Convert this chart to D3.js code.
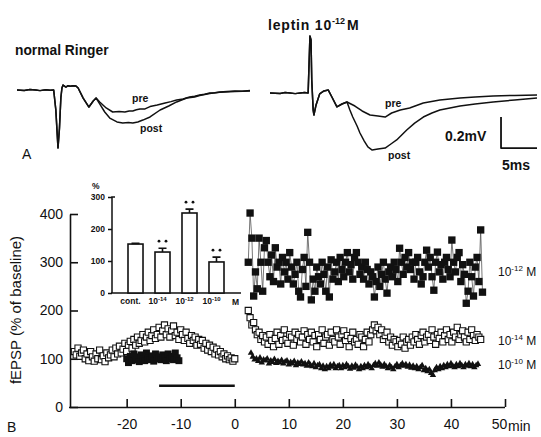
<!DOCTYPE html>
<html><head><meta charset="utf-8">
<script src="https://cdn.jsdelivr.net/npm/d3@7"></script>
<style>body{margin:0;background:#fff}svg{display:block;font-family:"Liberation Sans",Arial,Helvetica,sans-serif}</style>
</head><body><svg id="c" width="541" height="437"></svg>
<script>
// ---------- Panel A traces: [ms, mV] ----------
const ringerCommon = [[0,0],[1,-0.003],[1.8,0.003],[2.6,0],[3.2,-0.004],[4,0.002],[4.6,-0.002],[5.1,0],[5.4,-0.129],[5.7,-0.374],[5.9,-0.25],[6.1,-0.05],[6.25,0.013],[6.4,0.032],[6.8,0.019],[7.1,0.028],[7.4,0.024],[7.8,0.028],[8.2,0.026],[8.5,0.013],[9.2,-0.052],[10.0,-0.110],[10.6,-0.071],[11.0,-0.052]];
const ringerPre = [[11.5,-0.077],[12.4,-0.116],[13.3,-0.142],[14.2,-0.139],[15.0,-0.142],[15.6,-0.136],[16.1,-0.135],[16.6,-0.128],[17.1,-0.123],[17.8,-0.122],[18.5,-0.107],[19.5,-0.097],[20.6,-0.084],[21.4,-0.075],[22.2,-0.065],[23.1,-0.058],[24.0,-0.045],[24.7,-0.040],[25.4,-0.032],[26.1,-0.028],[26.8,-0.019],[27.5,-0.017],[28.2,-0.013],[29.2,-0.010],[30.3,-0.006],[31.3,-0.008],[32.4,-0.004]];
const ringerPost = [[11.5,-0.090],[12.2,-0.142],[12.9,-0.181],[13.9,-0.206],[14.7,-0.213],[15.5,-0.210],[16.1,-0.213],[16.8,-0.206],[17.5,-0.194],[18.5,-0.174],[19.9,-0.129],[21.1,-0.103],[22.2,-0.077],[23.6,-0.052],[24.7,-0.045],[25.4,-0.036],[26.8,-0.022],[28.2,-0.015],[30.3,-0.010],[32.4,-0.007]];
const leptinCommon = [[0,0],[1.4,-0.003],[2.1,0.003],[2.8,0],[3.5,-0.004],[4.2,0],[4.8,0.003],[5.3,0],[5.4,0.148],[5.55,0.368],[5.7,0.342],[5.8,0.084],[6.0,-0.110],[6.1,-0.142],[6.4,-0.077],[6.9,-0.006],[7.5,0.013],[8.1,0.019],[8.6,-0.026],[9.3,-0.090],[10.0,-0.071],[10.7,-0.058]];
const leptinPre = [[11.8,-0.084],[12.8,-0.116],[13.9,-0.142],[15.0,-0.148],[16.0,-0.155],[16.9,-0.129],[18.1,-0.110],[19.4,-0.097],[21.3,-0.065],[23.6,-0.045],[26.4,-0.032],[28.5,-0.026],[31.0,-0.019],[34.0,-0.016],[37.1,-0.013]];
const leptinPost = [[11.1,-0.110],[11.5,-0.155],[12.1,-0.213],[12.5,-0.258],[13.1,-0.310],[13.6,-0.348],[14.2,-0.368],[15.0,-0.362],[16.0,-0.355],[16.8,-0.329],[17.6,-0.303],[18.3,-0.271],[19.0,-0.239],[20.1,-0.194],[21.3,-0.155],[22.5,-0.129],[23.6,-0.110],[25.0,-0.097],[26.4,-0.084],[28.5,-0.071],[31.0,-0.058],[34.0,-0.045],[37.1,-0.032]];
const scaleBarMs = 5, scaleBarMv = 0.2;

// ---------- Panel B: fEPSP (% of baseline), sampled every 20 s ----------
const sampleStep = 1/3;
const pre14Start = -29.67;
const pre14 = [115,108,122,105,112,118,100,110,96,115, 104,95,110,100,118,98,106,94,112,102, 108,118,104,122,110,126,112,120,132,115, 128,136,122,140,128,145,132,138,150,135, 145,155,138,148,160,142,150,165,145,158, 170,150,162,145,158,168,148,155,140,160, 150,138,155,142,132,148,138,145,128,140, 130,138,122,132,118,128,115,124,110,120, 108,115,104,110,100,106,98,102,95,100];
const pre12Start = -20;
const pre12 = [100,92,105,96,110,98,104,94,108,100,96,112,102,98,106,95,110,100,104,98,108,102,96,110,100,105,98,112,102,96];
const post12Start = 2.5;
const post12 = [300,402,350,230,280,245,350,300,240,330, 345,300,270,315,260,330,290,300,255,310, 280,300,265,320,290,255,275,300,240,228, 285,310,250,362,300,222,265,240,290,270, 255,300,275,240,290,228,305,265,280,300, 260,310,285,270,300,320,280,295,265,310, 320,300,275,290,265,300,285,255,280,270, 228,260,290,250,275,300,265,236,280,290, 270,300,285,260,329,300,275,310,290,320, 285,300,265,300,310,280,255,270,300,325, 290,310,270,242,300,321,280,295,265,300, 310,285,270,346,300,280,310,320,260,295, 275,215,240,300,270,230,290,310,260,367, 238];
const post14Start = 2.5;
const post14 = [200,185,170,175,160,150,155,140,148,135, 145,130,150,138,125,142,155,130,148,138, 160,140,132,150,145,128,155,140,150,135, 145,158,130,150,140,155,135,148,125,150, 140,160,132,145,150,128,155,140,135,160, 145,130,150,158,138,148,125,142,155,135, 140,130,150,145,125,140,155,135,150,160, 170,158,165,150,160,140,148,155,135,145, 128,140,135,125,138,130,145,122,135,140, 128,145,135,150,140,130,148,155,135,145, 150,138,160,145,130,150,142,155,135,148, 160,140,150,135,155,145,165,140,150,158, 145,135,155,140,160,148,138,150,145,140];
const post10Start = 3;
const post10 = [112,104,98,100,95,102,92,98,96,100, 90,96,93,99,91,95,92,97,90,94, 96,88,93,90,95,86,92,89,94,88, 90,85,92,87,84,90,82,86,88,80, 85,78,84,80,87,83,88,80,84,86, 80,86,82,88,84,79,85,81,87,83, 78,84,80,86,82,88,84,80,86,90, 85,92,87,83,88,84,80,86,82,78, 84,88,82,86,90,85,88,83,87,81, 85,80,84,78,82,86,76,80,74,78, 70,66,76,82,78,84,80,86,82,88, 84,90,85,82,88,84,90,86,82,88, 85,90,84,88,82,86,89];
const applicationPeriod = [-14, 0];
const applicationLevel = 44;
const xTicks = [-20,-10,0,10,20,30,40,50];
const yTicks = [0,100,200,300,400];

// ---------- Inset bar chart ----------
const insetCats = ["cont.","10-14","10-12","10-10"];
const insetBase = ["cont.","10","10","10"];
const insetExp = ["","-14","-12","-10"];
const insetMean = [153,128,250,97];
const insetErr = [2,12,12,15];
const insetSig = [false,true,true,true];
const insetTicks = [0,100,200,300];

const svg = d3.select("#c");
const series = (start, vals) => vals.map((v,i)=>({t:start+i*sampleStep, v}));

// ----- Panel A -----
const xL = d3.scaleLinear().domain([0,32.4]).range([17,250]);
const yL = d3.scaleLinear().domain([-0.4,0.4]).range([152,28]);
const xR = d3.scaleLinear().domain([0,37.1]).range([270,537]);
const yR = d3.scaleLinear().domain([-0.4,0.4]).range([155,31]);
const lineL = d3.line().x(d=>xL(d[0])).y(d=>yL(d[1]));
const lineR = d3.line().x(d=>xR(d[0])).y(d=>yR(d[1]));
const gA = svg.append("g").attr("fill","none").attr("stroke","#111").attr("stroke-width",1.5).attr("stroke-linejoin","round");
gA.append("path").attr("d", lineL(ringerCommon.concat(ringerPre)));
gA.append("path").attr("d", lineL(ringerCommon.concat(ringerPost)));
gA.append("path").attr("d", lineR(leptinCommon.concat(leptinPre)));
gA.append("path").attr("d", lineR(leptinCommon.concat(leptinPost)));
const sbX = xR(32.1), sbY = yR(-0.355);
gA.append("path").attr("stroke-width",1.8)
  .attr("d", `M${sbX},${yR(-0.355+scaleBarMv)}V${sbY}H${xR(32.1+scaleBarMs)}`);

const txt = (x,y,s,size,weight,anchor) => svg.append("text").attr("x",x).attr("y",y).attr("font-size",size)
  .attr("font-weight",weight||"normal").attr("text-anchor",anchor||"start").attr("fill","#111").text(s);
txt(15,55,"normal Ringer",13.8,"bold");
const lt = txt(268,30,"leptin 10",14,"bold").attr("letter-spacing",0.8);
lt.append("tspan").attr("dy",-6).attr("font-size",9).attr("letter-spacing",0).text("-12");
lt.append("tspan").attr("dy",6).attr("dx",2).text("M");
txt(132,102,"pre",10.5,"bold");
txt(140,132,"post",10.5,"bold");
txt(385,107,"pre",10.5,"bold");
txt(388,159,"post",10.5,"bold");
txt(22,159,"A",14,"normal");
txt(445,141,"0.2mV",14,"bold");
txt(502,170,"5ms",14,"bold");

// ----- Panel B -----
const xB = d3.scaleLinear().domain([-30.3,50]).range([71,505]);
const yB = d3.scaleLinear().domain([0,400]).range([407,214]);

const gAx = svg.append("g").attr("transform","translate(0,407)")
  .call(d3.axisBottom(xB).tickValues(xTicks).tickSizeInner(-8).tickSizeOuter(0).tickPadding(12).tickFormat(d=>String(d)));
const gAy = svg.append("g").attr("transform","translate(70,0)")
  .call(d3.axisLeft(yB).tickValues(yTicks).tickSizeInner(-8).tickSizeOuter(0).tickPadding(7).tickFormat(d=>String(d)));
[gAx,gAy].forEach(g=>{
  g.selectAll("path,line").attr("stroke","#111").attr("stroke-width",1.6);
  g.selectAll("text").attr("font-size",14).attr("fill","#111").attr("font-family","Liberation Sans, Arial, sans-serif");
});
gAx.select(".domain").attr("d",`M69,0.5H${xB(50)}`);
gAx.selectAll(".tick text").filter(d=>d===50).attr("dx",-6);
txt(508,431,"min",14,"normal");
txt(7,432,"B",14,"normal");
svg.append("text").attr("transform","translate(21,310) rotate(-90)").attr("text-anchor","middle")
  .attr("font-size",15).attr("fill","#111").text("fEPSP (% of baseline)");

svg.append("line").attr("x1",xB(applicationPeriod[0])).attr("x2",xB(applicationPeriod[1]))
  .attr("y1",yB(applicationLevel)).attr("y2",yB(applicationLevel)).attr("stroke","#111").attr("stroke-width",2.5);

const sq = (size)=>d3.symbol(d3.symbolSquare,size)();
const tri = d3.symbol(d3.symbolTriangle,18)();
const ln = d3.line().x(d=>xB(d.t)).y(d=>yB(d.v));

// pre period
const gPre = svg.append("g");
gPre.selectAll("path.o").data(series(pre14Start,pre14)).join("path")
  .attr("transform",d=>`translate(${xB(d.t)},${yB(d.v)})`).attr("d",sq(38))
  .attr("fill","#fff").attr("stroke","#111").attr("stroke-width",1.1);
gPre.selectAll("path.f").data(series(pre12Start,pre12)).join("path")
  .attr("transform",d=>`translate(${xB(d.t)},${yB(d.v)})`).attr("d",sq(48)).attr("fill","#111");

// post 10^-14 open squares
svg.append("g").selectAll("path").data(series(post14Start,post14)).join("path")
  .attr("transform",d=>`translate(${xB(d.t)},${yB(d.v)})`).attr("d",sq(38))
  .attr("fill","#fff").attr("stroke","#111").attr("stroke-width",1.1);
// post 10^-10 triangles
const p10 = series(post10Start,post10);
svg.append("path").attr("d",ln(p10)).attr("fill","none").attr("stroke","#222").attr("stroke-width",0.9);
svg.append("g").selectAll("path").data(p10).join("path")
  .attr("transform",d=>`translate(${xB(d.t)},${yB(d.v)})`).attr("d",tri).attr("fill","#111");
// post 10^-12 filled squares
const p12 = series(post12Start,post12);
svg.append("path").attr("d",ln(p12)).attr("fill","none").attr("stroke","#555").attr("stroke-width",0.8);
svg.append("g").selectAll("path").data(p12).join("path")
  .attr("transform",d=>`translate(${xB(d.t)},${yB(d.v)})`).attr("d",sq(54)).attr("fill","#111");

const lab = (y, exp) => { const t = txt(498,y,"10",12,"normal"); t.append("tspan").attr("dy",-5).attr("font-size",8).text(exp); t.append("tspan").attr("dy",5).text(" M"); };
lab(yB(280)+4,"-12");
lab(yB(136)+4,"-14");
lab(yB(88)+4,"-10");

// ----- Inset -----
const xIn = d3.scaleBand().domain(insetCats).range([114.5,237.5]).paddingInner(0.444).paddingOuter(0.5);
const yIn = d3.scaleLinear().domain([0,300]).range([293,197]);
const gIn = svg.append("g");
const gIy = gIn.append("g").attr("transform","translate(112,0)")
  .call(d3.axisLeft(yIn).tickValues(insetTicks).tickSize(4).tickPadding(3));
gIy.selectAll("path,line").attr("stroke","#111").attr("stroke-width",1.5);
gIy.select(".domain").attr("d","M0,293V197H3");
gIy.selectAll("text").attr("font-size",8.5).attr("font-weight","bold").attr("fill","#111");
gIn.append("line").attr("x1",111).attr("x2",241).attr("y1",293).attr("y2",293).attr("stroke","#111").attr("stroke-width",1.5);
txt(92,189,"%",8.5,"bold");
const gIx = gIn.append("g").attr("transform","translate(0,293)")
  .call(d3.axisBottom(xIn).tickSize(0).tickPadding(5));
gIx.select(".domain").remove();
gIx.selectAll("text").attr("font-size",8.5).attr("font-weight","bold").attr("fill","#111")
  .attr("transform","translate(-5,0)")
  .each(function(d,i){ const t=d3.select(this); t.text(insetBase[i]); if(insetExp[i]) t.append("tspan").attr("dy",-3).attr("font-size",6).text(insetExp[i]); });
txt(232,305,"M",8.5,"bold");
insetCats.forEach((c,i)=>{
  const x0 = xIn(c), w = xIn.bandwidth(), cx = x0 + w/2;
  gIn.append("rect").attr("x",x0).attr("y",yIn(insetMean[i])).attr("width",w).attr("height",yIn(0)-yIn(insetMean[i]))
    .attr("fill","#fff").attr("stroke","#111").attr("stroke-width",1.6);
  const top = yIn(insetMean[i]+insetErr[i]);
  gIn.append("path").attr("d",`M${cx},${yIn(insetMean[i])}V${top}M${cx-4},${top}H${cx+4}`).attr("stroke","#111").attr("stroke-width",1.6).attr("fill","none");
  if (insetSig[i]) [-3.5,3.5].forEach(dx=>gIn.append("circle").attr("cx",cx+dx).attr("cy",top-7).attr("r",1.4).attr("fill","#111"));
});
</script></body></html>
